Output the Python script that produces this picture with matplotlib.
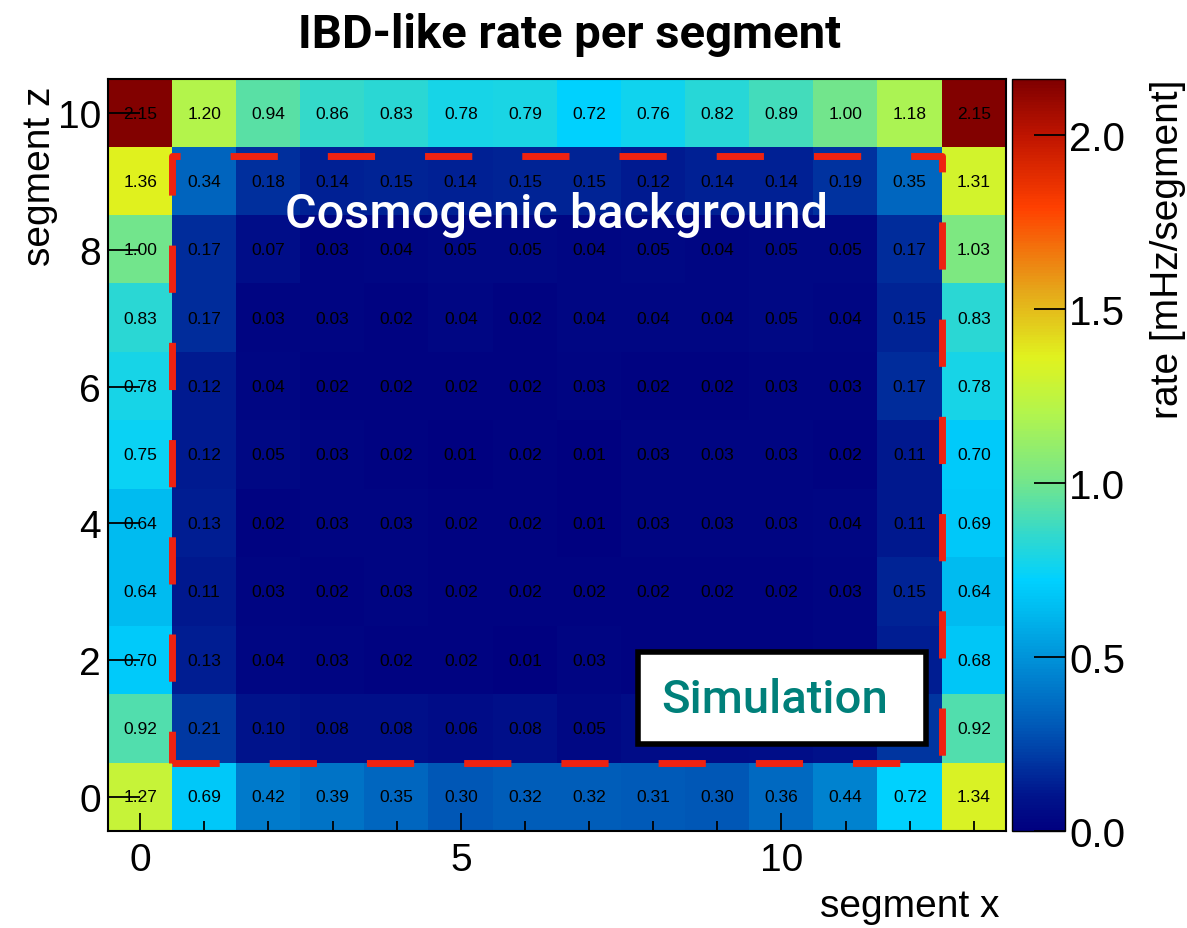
import numpy as np
import matplotlib
matplotlib.use("Agg")
import matplotlib.pyplot as plt
from matplotlib.patches import Rectangle
from matplotlib.colors import LinearSegmentedColormap

plt.rcParams['font.family'] = ['Liberation Sans', 'DejaVu Sans']

# rate per segment [mHz/segment], rows = segment z 0..10, columns = segment x 0..13
rate_z0 = [1.27, 0.69, 0.42, 0.39, 0.35, 0.30, 0.32, 0.32, 0.31, 0.30, 0.36, 0.44, 0.72, 1.34]
rate_z1 = [0.92, 0.21, 0.10, 0.08, 0.08, 0.06, 0.08, 0.05, 0.06, 0.06, 0.07, 0.09, 0.20, 0.92]
rate_z2 = [0.70, 0.13, 0.04, 0.03, 0.02, 0.02, 0.01, 0.03, 0.02, 0.02, 0.02, 0.03, 0.13, 0.68]
rate_z3 = [0.64, 0.11, 0.03, 0.02, 0.03, 0.02, 0.02, 0.02, 0.02, 0.02, 0.02, 0.03, 0.15, 0.64]
rate_z4 = [0.64, 0.13, 0.02, 0.03, 0.03, 0.02, 0.02, 0.01, 0.03, 0.03, 0.03, 0.04, 0.11, 0.69]
rate_z5 = [0.75, 0.12, 0.05, 0.03, 0.02, 0.01, 0.02, 0.01, 0.03, 0.03, 0.03, 0.02, 0.11, 0.70]
rate_z6 = [0.78, 0.12, 0.04, 0.02, 0.02, 0.02, 0.02, 0.03, 0.02, 0.02, 0.03, 0.03, 0.17, 0.78]
rate_z7 = [0.83, 0.17, 0.03, 0.03, 0.02, 0.04, 0.02, 0.04, 0.04, 0.04, 0.05, 0.04, 0.15, 0.83]
rate_z8 = [1.00, 0.17, 0.07, 0.03, 0.04, 0.05, 0.05, 0.04, 0.05, 0.04, 0.05, 0.05, 0.17, 1.03]
rate_z9 = [1.36, 0.34, 0.18, 0.14, 0.15, 0.14, 0.15, 0.15, 0.12, 0.14, 0.14, 0.19, 0.35, 1.31]
rate_z10 = [2.15, 1.20, 0.94, 0.86, 0.83, 0.78, 0.79, 0.72, 0.76, 0.82, 0.89, 1.00, 1.18, 2.15]

rates = np.array([rate_z0, rate_z1, rate_z2, rate_z3, rate_z4, rate_z5, rate_z6,
                  rate_z7, rate_z8, rate_z9, rate_z10])
nz, nx = rates.shape

# ROOT-like rainbow palette
root_rainbow = LinearSegmentedColormap.from_list("root_rainbow", [
    (0.000, (0.00, 0.00, 0.50)),
    (0.046, (0.00, 0.08, 0.55)),
    (0.139, (0.00, 0.35, 0.72)),
    (0.208, (0.00, 0.52, 0.82)),
    (0.300, (0.00, 0.75, 0.95)),
    (0.333, (0.00, 0.82, 1.00)),
    (0.394, (0.20, 0.85, 0.80)),
    (0.463, (0.45, 0.90, 0.55)),
    (0.556, (0.70, 0.96, 0.30)),
    (0.630, (0.88, 0.95, 0.12)),
    (0.720, (0.90, 0.65, 0.10)),
    (0.830, (1.00, 0.25, 0.00)),
    (0.926, (0.75, 0.08, 0.00)),
    (1.000, (0.50, 0.00, 0.00)),
])

fig = plt.figure(figsize=(11.87, 9.29), dpi=100)
ax = fig.add_axes([0.091, 0.1044, 0.7565, 0.8095])
cax = fig.add_axes([0.8526, 0.1044, 0.0447, 0.8095])

im = ax.imshow(rates, origin='lower', cmap=root_rainbow, vmin=0, vmax=2.16,
               aspect='auto', extent=(-0.5, nx - 0.5, -0.5, nz - 0.5),
               interpolation='nearest')

for iz in range(nz):
    for ix in range(nx):
        ax.text(ix, iz, f"{rates[iz, ix]:.2f}", ha='center', va='center',
                fontsize=12.5, color='black')

# fiducial volume outline
ax.plot([0.5, 12.5, 12.5, 0.5, 0.5], [0.5, 0.5, 9.37, 9.37, 0.5],
        color='#ee2211', lw=5, dashes=(6.8, 7.2), solid_capstyle='butt')

ax.text(6.49, 8.52, "Cosmogenic background", color='white', fontsize=35,
        fontfamily=['Roboto', 'DejaVu Sans'], fontweight='medium',
        ha='center', va='center')

box = Rectangle((7.77, 0.77), 4.49, 1.35, facecolor='white', edgecolor='black',
                lw=4, zorder=5)
ax.add_patch(box)
ax.text(9.9, 1.43, "Simulation", color='#00807a', fontsize=34,
        fontfamily=['Roboto', 'DejaVu Sans'], fontweight='medium',
        ha='center', va='center', zorder=6)

ax.set_xlim(-0.5, nx - 0.5)
ax.set_ylim(-0.5, nz - 0.5)
ax.set_xticks([0, 5, 10])
ax.set_xticks(range(nx), minor=True)
ax.set_yticks(range(0, 11, 2))
ax.set_yticks([], minor=True)
ax.tick_params(axis='x', which='major', direction='in', length=13, width=1.3,
               labelsize=28, pad=8, top=False)
ax.tick_params(axis='x', which='minor', direction='in', length=7, width=1.3, top=False)
ax.tick_params(axis='y', which='major', direction='in', length=23, width=1.3,
               labelsize=28, pad=5, right=False)
for s in ax.spines.values():
    s.set_linewidth(1.5)

fig.text(1000 / 1187, 1 - 907 / 929, "segment x", fontsize=28, ha='right', va='center')
fig.text(40 / 1187, 1 - 87 / 929, "segment z", fontsize=28, ha='center', va='top',
         rotation=90)

fig.text(570 / 1187, 1 - 35 / 929, "IBD-like rate per segment", fontsize=34,
         fontfamily=['Roboto', 'DejaVu Sans'], fontweight='bold',
         ha='center', va='center')

cb = fig.colorbar(im, cax=cax)
cb.set_ticks([0.0, 0.5, 1.0, 1.5, 2.0])
cb.set_ticklabels(["0.0", "0.5", "1.0", "1.5", "2.0"])
cax.tick_params(direction='in', length=22, width=1.3, labelsize=29, pad=3)
cb.outline.set_linewidth(1.0)
cb.set_label("rate [mHz/segment]", fontsize=28, y=1.0, ha='right', labelpad=18)

fig.savefig("out.png", dpi=100)
